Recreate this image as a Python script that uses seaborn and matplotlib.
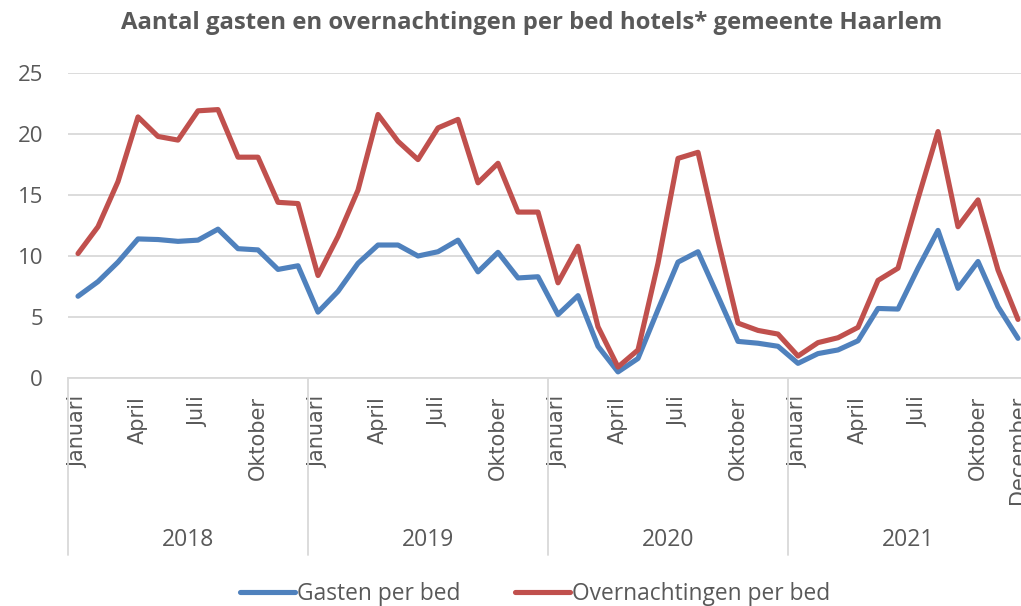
import matplotlib
matplotlib.use("Agg")
import matplotlib.pyplot as plt
import matplotlib.transforms as mtransforms
import seaborn as sns
import pandas as pd
import numpy as np

# ---- data ----
years = ["2018", "2019", "2020", "2021"]
months = ["Januari", "Februari", "Maart", "April", "Mei", "Juni", "Juli",
          "Augustus", "September", "Oktober", "November", "December"]
gasten_per_bed = [
    6.7, 7.9, 9.5, 11.4, 11.35, 11.2, 11.3, 12.2, 10.6, 10.5, 8.9, 9.2,
    5.4, 7.1, 9.4, 10.9, 10.9, 10.0, 10.35, 11.3, 8.7, 10.3, 8.2, 8.3,
    5.2, 6.75, 2.6, 0.5, 1.6, 5.6, 9.5, 10.35, 6.7, 3.0, 2.85, 2.6,
    1.2, 2.0, 2.3, 3.05, 5.7, 5.65, 9.0, 12.1, 7.35, 9.55, 5.85, 3.25,
]
overnachtingen_per_bed = [
    10.2, 12.4, 16.1, 21.4, 19.8, 19.5, 21.9, 22.0, 18.1, 18.1, 14.4, 14.3,
    8.4, 11.6, 15.4, 21.6, 19.4, 17.9, 20.5, 21.2, 16.0, 17.6, 13.6, 13.6,
    7.8, 10.8, 4.2, 0.9, 2.3, 9.4, 18.0, 18.5, 11.3, 4.5, 3.9, 3.6,
    1.8, 2.9, 3.3, 4.15, 8.0, 9.0, 14.7, 20.2, 12.4, 14.6, 8.85, 4.8,
]
series_names = ["Gasten per bed", "Overnachtingen per bed"]
colors = ["#4F81BD", "#C0504D"]
title = "Aantal gasten en overnachtingen per bed hotels* gemeente Haarlem"
shown_months = ["Januari", "April", "Juli", "Oktober"]

n = len(gasten_per_bed)
idx = np.arange(n)
df = pd.DataFrame({
    "idx": np.concatenate([idx, idx]),
    "waarde": gasten_per_bed + overnachtingen_per_bed,
    "reeks": [series_names[0]] * n + [series_names[1]] * n,
})

sns.set_theme(style="white")
plt.rcParams["font.family"] = ["Open Sans", "DejaVu Sans"]

W, H = 1021, 606
fig = plt.figure(figsize=(W / 100, H / 100), dpi=100)
left_px, right_px, top_px, bot_px = 68, 1028, 73, 378
ax = fig.add_axes([left_px / W, 1 - bot_px / H, (right_px - left_px) / W, (bot_px - top_px) / H])

sns.lineplot(data=df, x="idx", y="waarde", hue="reeks", palette=colors,
             linewidth=3.7, ax=ax, legend=False, solid_capstyle="round",
             solid_joinstyle="round")

ax.set_xlim(-0.5, n - 0.5)
ax.set_ylim(0, 25)
ax.set_yticks([0, 5, 10, 15, 20, 25])
ax.yaxis.grid(True, color="#D9D9D9", linewidth=1.3)
ax.set_axisbelow(True)
for s in ["left", "right", "top"]:
    ax.spines[s].set_visible(False)
ax.spines["bottom"].set_color("#D9D9D9")
ax.spines["bottom"].set_linewidth(1.3)
ax.tick_params(axis="y", length=0, pad=18, labelsize=16, labelcolor="#595959")
ax.set_xlabel("")
ax.set_ylabel("")

# month tick labels
tick_pos, tick_lab = [], []
for i in range(n):
    m = months[i % 12]
    if m in shown_months or i == n - 1:
        tick_pos.append(i)
        tick_lab.append(m)
ax.set_xticks(tick_pos)
ax.set_xticklabels(tick_lab, rotation=90, fontsize=15, color="#595959",
                   family=["DejaVu Sans"])
ax.tick_params(axis="x", length=0, pad=13)

# year separators and labels
trans = mtransforms.blended_transform_factory(ax.transData, ax.transAxes)
sep_bottom = -(555 - bot_px) / (bot_px - top_px)
for k in range(len(years) + 1):
    xs = k * 12 - 0.5
    ax.plot([xs, xs], [0, sep_bottom], transform=trans, color="#D9D9D9",
            linewidth=1.3, clip_on=False)
year_y = -(540 - bot_px) / (bot_px - top_px)
for k, yr in enumerate(years):
    ax.text(k * 12 + 5.5, year_y, yr, transform=trans, ha="center", va="center",
            fontsize=16.5, color="#595959")

fig.text(532 / W, 1 - 23 / H, title, ha="center", va="center", fontsize=17.2,
         fontweight="bold", color="#595959")

handles = [plt.Line2D([0], [0], color=c, linewidth=3.7, solid_capstyle="round") for c in colors]
fig.legend(handles, series_names, loc="center", bbox_to_anchor=(535 / W, 1 - 594 / H),
           ncol=2, frameon=False, fontsize=16.4, handlelength=2.4, handletextpad=0.1,
           columnspacing=2.4, labelcolor="#595959", borderpad=0.1)

fig.savefig("out.png", dpi=100)
